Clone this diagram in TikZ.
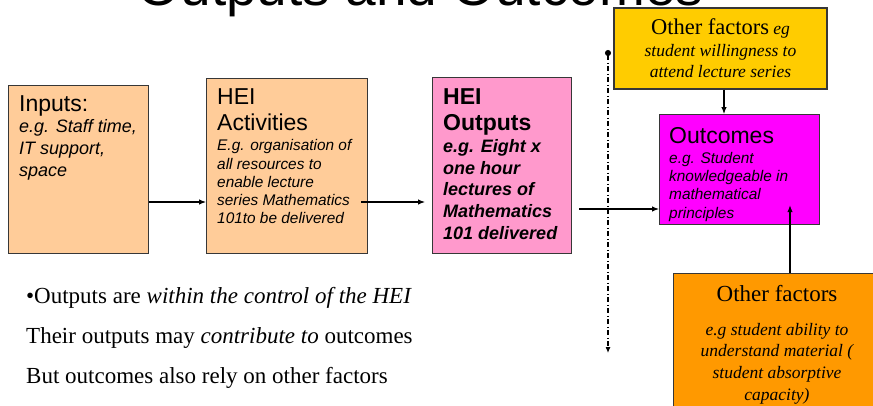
\documentclass[tikz,border=0pt]{standalone}
\usepackage{fontspec}
\setmainfont{Liberation Serif}
\setsansfont{Liberation Sans}
\usetikzlibrary{arrows.meta,positioning,calc}
\definecolor{peach}{RGB}{255,204,153}
\definecolor{pinkout}{RGB}{255,153,204}
\definecolor{goldfac}{RGB}{255,204,0}
\definecolor{magout}{RGB}{255,0,255}
\definecolor{orangefac}{RGB}{255,153,0}
\definecolor{edgegray}{RGB}{55,55,55}
\tikzset{
  flowbox/.style={draw=edgegray, line width=1.2pt, anchor=north west, inner sep=0pt},
  sanstext/.style={anchor=north west, inner sep=0pt, align=left,
    font=\sffamily\fontsize{15.4}{18.3}\selectfont\itshape},
  bigtext/.style={anchor=north west, inner sep=0pt, align=left,
    font=\sffamily\fontsize{18}{21.7}\selectfont\itshape},
  serifbox/.style={draw=edgegray, line width=1.2pt, align=center, inner sep=0pt,
    font=\fontsize{17.5}{21.5}\selectfont},
  arr/.style={-{Latex[length=7pt,width=5.5pt]}, line width=1.1pt},
  dashdot/.style={{Circle[length=6pt]}-{Latex[length=6pt,width=5pt]}, line width=1.1pt,
    dash pattern=on 5pt off 2.5pt on 1pt off 2.5pt}
}
\newcommand{\headfont}{\fontsize{23}{27}\selectfont\upshape}

\begin{document}
\begin{tikzpicture}[x=1pt,y=-1pt]
  \useasboundingbox (0,0) rectangle (873,405);
  \node[font=\sffamily\fontsize{55}{60}\selectfont, anchor=base] (title) at (420.5,5) {Outputs and Outcomes};

  % chain of boxes
  \node[flowbox, fill=peach, minimum width=140pt, minimum height=168pt] (inputs) at (8,85) {};
  \node[flowbox, fill=peach, minimum width=161pt, minimum height=175pt] (act) at (206,78) {};
  \node[flowbox, fill=pinkout, minimum width=139pt, minimum height=176pt] (outp) at (432,77) {};
  \node[flowbox, fill=magout, minimum width=160pt, minimum height=110pt] (outc) at (659,114) {};
  \node[bigtext] (intext) at (19,95) {{\headfont Inputs:}\\ e.g. Staff time,\\ IT support,\\ space};
  \node[sanstext] (acttext) at (217,88) {{\headfont HEI}\\[8.4pt] {\headfont Activities}\\[1.7pt]
    E.g. organisation of\\ all resources to\\ enable lecture\\ series Mathematics\\ 101to be delivered};
  \node[bigtext, font=\sffamily\fontsize{18}{21.7}\selectfont\bfseries\itshape] (outtext) at (443,88)
    {{\headfont HEI}\\[5pt] {\headfont Outputs}\\ e.g. Eight x\\ one hour\\ lectures of\\ Mathematics\\ 101 delivered};
  \node[sanstext] (outctext) at (669,127) {{\headfont Outcomes}\\[1.7pt] e.g. Student\\ knowledgeable in\\
    mathematical\\ principles};

  % other factors
  \node[serifbox, fill=goldfac, minimum width=213pt, minimum height=81pt] (other1) at (720.5,48.5)
    {{\fontsize{22.5}{26}\selectfont Other factors} \textit{eg}\\ \textit{student willingness to}\\ \textit{attend lecture series}};
  \node[flowbox, fill=orangefac, minimum width=208pt, minimum height=150pt] (other2) at (673,273) {};
  \node[anchor=north, inner sep=0pt, align=center, font=\fontsize{17.5}{21.7}\selectfont\itshape] (other2text) at (777,285.5)
    {{\headfont Other factors}\\[11.5pt] e.g student ability to\\ understand material (\\ student absorptive\\ capacity)};

  \draw[arr] (inputs.east |- 0,202) -- (act.west |- 0,202);
  \draw[arr] ([xshift=-7pt]act.east |- 0,202) -- ([xshift=-7pt]outp.west |- 0,202);
  \draw[arr] ([xshift=7pt]outp.east |- 0,209) -- (outc.west |- 0,209);
  \draw[arr] (other1.south -| 724,0) -- (outc.north -| 724,0);
  \draw[arr] (other2.north -| 790,0) -- ([yshift=20pt]outc.south -| 790,0);

  \coordinate (dtop) at (608,50);
  \coordinate (dbot) at (608,353);
  \draw[dashdot] (dtop) -- (dbot);

  \node[anchor=north west, inner sep=0pt, align=left, font=\fontsize{23}{40}\selectfont] (notes) at (26,287)
    {•Outputs are \textit{within the control of the HEI}\\
     Their outputs may \textit{contribute to} outcomes\\
     But outcomes also rely on other factors};
\end{tikzpicture}
\end{document}
